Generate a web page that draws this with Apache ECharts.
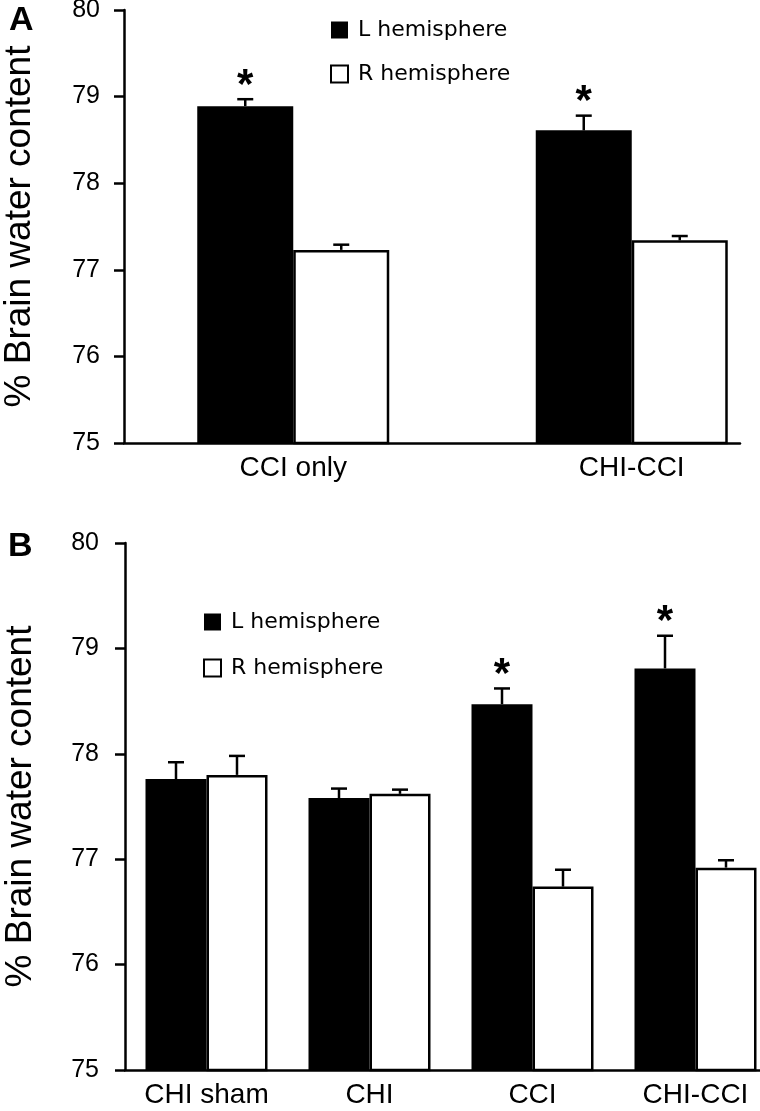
<!DOCTYPE html>
<html>
<head>
<meta charset="utf-8">
<script src="https://cdn.jsdelivr.net/npm/echarts@6/dist/echarts.min.js"></script>
<style>
html,body{margin:0;padding:0;background:#fff;}
#chart{width:760px;height:1111px;}
</style>
</head>
<body>
<div id="chart"></div>
<script>
// ---- Data ----
const seriesNames = ['L hemisphere', 'R hemisphere'];
const yAxisName = '% Brain water content';
const yMin = 75, yMax = 80, yInterval = 1;

// Panel A
const categoriesA = ['CCI only', 'CHI-CCI'];
const leftA = [78.89, 78.61];
const leftErrA = [0.08, 0.17];
const rightA = [77.23, 77.34];
const rightErrA = [0.06, 0.05];
const sigLeftA = [1, 1];
const sigRightA = [0, 0];

// Panel B
const categoriesB = ['CHI sham', 'CHI', 'CCI', 'CHI-CCI'];
const leftB = [77.76, 77.58, 78.47, 78.81];
const leftErrB = [0.16, 0.09, 0.15, 0.31];
const rightB = [77.80, 77.62, 76.74, 76.92];
const rightErrB = [0.18, 0.04, 0.16, 0.07];
const sigLeftB = [0, 0, 1, 1];
const sigRightB = [0, 0, 0, 0];

// ---- Styles ----
const FONT = 'Liberation Sans, Arial, sans-serif';
const LW = 2.5;
const barWA = 96, barWB = 61;

function errData(vals, errs, sig) {
  return vals.map((v, i) => [i, v, errs[i], sig[i]]);
}

function errRender(offset, capHalf) {
  return function (params, api) {
    const i = api.value(0), v = api.value(1), e = api.value(2), s = api.value(3);
    const p0 = api.coord([i, v]);
    const p1 = api.coord([i, v + e]);
    const x = p0[0] + offset;
    const children = [
      { type: 'line', shape: { x1: x, y1: p0[1], x2: x, y2: p1[1] }, style: { stroke: '#000', lineWidth: LW } },
      { type: 'line', shape: { x1: x - capHalf, y1: p1[1], x2: x + capHalf, y2: p1[1] }, style: { stroke: '#000', lineWidth: LW } }
    ];
    if (s) {
      children.push({ type: 'text', style: { text: '*', x: x, y: p1[1] - 13, align: 'center', verticalAlign: 'middle', fontSize: 42, fontWeight: 'bold', fontFamily: FONT, fill: '#000' } });
    }
    return { type: 'group', children: children };
  };
}

const yAxisCommon = {
  type: 'value', min: yMin, max: yMax, interval: yInterval,
  name: yAxisName, nameLocation: 'middle', nameGap: 86,
  nameTextStyle: { fontFamily: FONT, fontSize: 37, color: '#000' },
  axisLine: { show: true, lineStyle: { color: '#000', width: LW } },
  axisTick: { show: true, inside: false, length: 10, lineStyle: { color: '#000', width: LW } },
  axisLabel: { margin: 24, fontFamily: FONT, fontSize: 25, color: '#000' },
  splitLine: { show: false }
};

const xAxisCommon = {
  type: 'category',
  axisLine: { show: true, lineStyle: { color: '#000', width: LW } },
  axisTick: { show: false },
  axisLabel: { margin: 11, fontFamily: FONT, fontSize: 28, color: '#000' },
  splitLine: { show: false }
};

const legendCommon = {
  orient: 'vertical', icon: 'rect', itemWidth: 17, itemHeight: 17,
  padding: 0, selectedMode: false,
  textStyle: { fontFamily: 'DejaVu Sans, sans-serif', fontSize: 22, color: '#000', lineHeight: 20, padding: [0, 0, 0, 5] },
  data: seriesNames
};

const blackStyle = { color: '#000', borderColor: '#000', borderWidth: 0 };
const whiteStyle = { color: '#fff', borderColor: '#000', borderWidth: LW };

const option = {
  backgroundColor: '#fff',
  animation: false,
  grid: [
    { left: 124, top: 10, height: 433, width: 677, outerBoundsMode: 'none', containLabel: false },
    { left: 124, top: 10, height: 433, width: 616, outerBoundsMode: 'none', containLabel: false },
    { left: 125, top: 543, height: 527, width: 652, outerBoundsMode: 'none', containLabel: false }
  ],
  xAxis: [
    Object.assign({}, xAxisCommon, { gridIndex: 0, data: categoriesA, axisLine: { show: false } }),
    { gridIndex: 1, type: 'value', min: 0, max: 1, axisLine: { show: true, lineStyle: { color: '#000', width: LW } }, axisTick: { show: false }, axisLabel: { show: false }, splitLine: { show: false } },
    Object.assign({}, xAxisCommon, { gridIndex: 2, data: categoriesB })
  ],
  yAxis: [
    Object.assign({}, yAxisCommon, { gridIndex: 0 }),
    { gridIndex: 1, type: 'value', min: yMin, max: yMax, show: false },
    Object.assign({}, yAxisCommon, { gridIndex: 2, axisLabel: Object.assign({}, yAxisCommon.axisLabel, { margin: 26 }) })
  ],
  legend: [
    Object.assign({}, legendCommon, { left: 330, top: 19, itemGap: 22 }),
    Object.assign({}, legendCommon, { left: 203, top: 611, itemGap: 24 })
  ],
  graphic: [
    { type: 'text', left: 9, top: 4, style: { text: 'A', fontSize: 34, fontWeight: 'bold', fontFamily: FONT, fill: '#000' } },
    { type: 'text', left: 8, top: 530, style: { text: 'B', fontSize: 34, fontWeight: 'bold', fontFamily: FONT, fill: '#000' } }
  ],
  series: [
    { name: seriesNames[0], type: 'bar', xAxisIndex: 0, yAxisIndex: 0, data: leftA, barWidth: barWA, barGap: '0%', itemStyle: blackStyle, z: 2 },
    { name: seriesNames[1], type: 'bar', xAxisIndex: 0, yAxisIndex: 0, data: rightA, barWidth: barWA, barGap: '0%', itemStyle: whiteStyle, z: 2 },
    { type: 'custom', xAxisIndex: 0, yAxisIndex: 0, data: errData(leftA, leftErrA, sigLeftA), renderItem: errRender(-barWA / 2, 8), encode: { x: 0, y: 1 }, z: 3, clip: false },
    { type: 'custom', xAxisIndex: 0, yAxisIndex: 0, data: errData(rightA, rightErrA, sigRightA), renderItem: errRender(barWA / 2, 8), encode: { x: 0, y: 1 }, z: 3, clip: false },
    { name: seriesNames[0], type: 'bar', xAxisIndex: 2, yAxisIndex: 2, data: leftB, barWidth: barWB, barGap: '0%', itemStyle: blackStyle, z: 2 },
    { name: seriesNames[1], type: 'bar', xAxisIndex: 2, yAxisIndex: 2, data: rightB, barWidth: barWB, barGap: '0%', itemStyle: whiteStyle, z: 2 },
    { type: 'custom', xAxisIndex: 2, yAxisIndex: 2, data: errData(leftB, leftErrB, sigLeftB), renderItem: errRender(-barWB / 2, 8), encode: { x: 0, y: 1 }, z: 3, clip: false },
    { type: 'custom', xAxisIndex: 2, yAxisIndex: 2, data: errData(rightB, rightErrB, sigRightB), renderItem: errRender(barWB / 2, 8), encode: { x: 0, y: 1 }, z: 3, clip: false }
  ]
};

const chart = echarts.init(document.getElementById('chart'), null, { renderer: 'canvas' });
chart.setOption(option);
</script>
</body>
</html>
